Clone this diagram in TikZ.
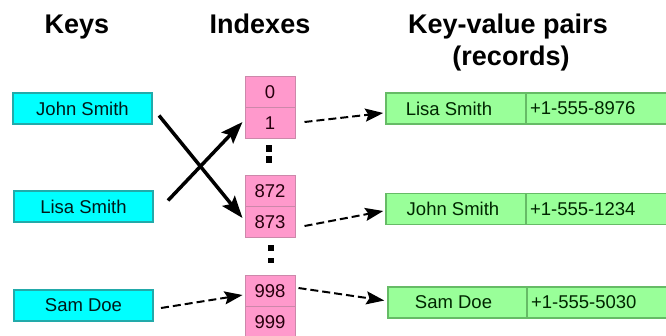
\documentclass[tikz,border=0pt]{standalone}
\usepackage{fontspec}
\setmainfont{Liberation Sans}
\usetikzlibrary{arrows.meta,calc}
\definecolor{keyfill}{HTML}{00FFFF}
\definecolor{keyline}{HTML}{22AAAA}
\definecolor{idxfill}{HTML}{FF99CC}
\definecolor{idxline}{HTML}{CC88AA}
\definecolor{recfill}{HTML}{99FF99}
\definecolor{recline}{HTML}{66BB66}
\begin{document}
\begin{tikzpicture}[x=1pt,y=-1pt,
  title/.style={font=\fontsize{27}{32}\selectfont\bfseries, anchor=base, inner sep=0},
  keybox/.style={draw=keyline, line width=2pt, fill=keyfill, minimum width=139pt, minimum height=31pt, inner sep=0, font=\fontsize{18.5}{22}\selectfont, text=black!80!teal},
  idxcell/.style={draw=idxline, line width=1pt, fill=idxfill, minimum width=50pt, minimum height=31pt, inner sep=0, font=\fontsize{18.5}{22}\selectfont, text=black!80!purple},
  namecell/.style={draw=recline, line width=1.5pt, fill=recfill, minimum width=140pt, minimum height=31pt, inner sep=0, font=\fontsize{18.5}{22}\selectfont, text=black!85!green},
  phonecell/.style={draw=recline, line width=1.5pt, fill=recfill, minimum width=142pt, minimum height=31pt, inner xsep=4pt, inner ysep=0, text width=134pt, align=left, font=\fontsize{18.5}{22}\selectfont, text=black!85!green},
  dotsq/.style={fill=black, inner sep=0, minimum size=6.5pt},
  solidarr/.style={line width=3.5pt, -{Stealth[length=22pt,width=16pt,inset=4pt]}},
  dasharr/.style={line width=2pt, dash pattern=on 8pt off 4pt, -{Stealth[length=18pt,width=13pt,inset=3pt]}},
]
\useasboundingbox (0,0) rectangle (666,335);

% titles
\node[title] (tkeys) at (77,33) {Keys};
\node[title] (tidx) at (260,33) {Indexes};
\node[title] (tkv) at (508,33) {Key-value pairs};
\node[title] (trec) at (511,65) {(records)};

% keys
\node[keybox] (kjohn) at (82.5,108.5) {John Smith};
\node[keybox] (klisa) at (83.5,206.5) {Lisa Smith};
\node[keybox] (ksam) at (83.5,305.5) {Sam Doe};

% index cells
\node[idxcell] (i0) at (270,92) {0};
\node[idxcell] (i1) at (270,123) {1};
\node[idxcell] (i872) at (270,191) {872};
\node[idxcell] (i873) at (270,222) {873};
\node[idxcell] (i998) at (270,291) {998};
\node[idxcell] (i999) at (270,322) {999};

% ellipsis dots
\node[dotsq] (d1) at (269,148.5) {};
\node[dotsq] (d2) at (269,159.5) {};
\node[dotsq, minimum size=5.5pt] (d3) at (271,248) {};
\node[dotsq, minimum size=5.5pt] (d4) at (271,260.5) {};

% records
\node[namecell] (rlisa) at (456,108.5) {\kern-14pt Lisa Smith};
\node[phonecell] (plisa) at (597,108.5) {+1-555-8976};
\node[namecell] (rjohn) at (456,209) {\kern-6pt John Smith};
\node[phonecell] (pjohn) at (597,209) {+1-555-1234};
\node[namecell] (rsam) at (458,302.5) {\kern-9pt Sam Doe};
\node[phonecell] (psam) at (598,302.5) {+1-555-5030};

% key -> index arrows
\draw[solidarr] ($(kjohn.east)+(6,7)$) -- ($(i873.west)+(-2,-4)$);
\draw[solidarr] ($(klisa.east)+(14,-6)$) -- ($(i1.west)+(-2,-1)$);
\draw[dasharr] ($(ksam.east)+(7,2.5)$) -- ($(i998.west)+(-2,4)$);

% index -> record arrows
\draw[dasharr] ($(i1.east)+(9,-1)$) -- ($(rlisa.west)+(-2,4.5)$);
\draw[dasharr] ($(i873.east)+(9,4)$) -- ($(rjohn.west)+(-2,2)$);
\draw[dasharr] ($(i998.east)+(3,-3)$) -- ($(rsam.west)+(-3,-2)$);
\end{tikzpicture}
\end{document}
